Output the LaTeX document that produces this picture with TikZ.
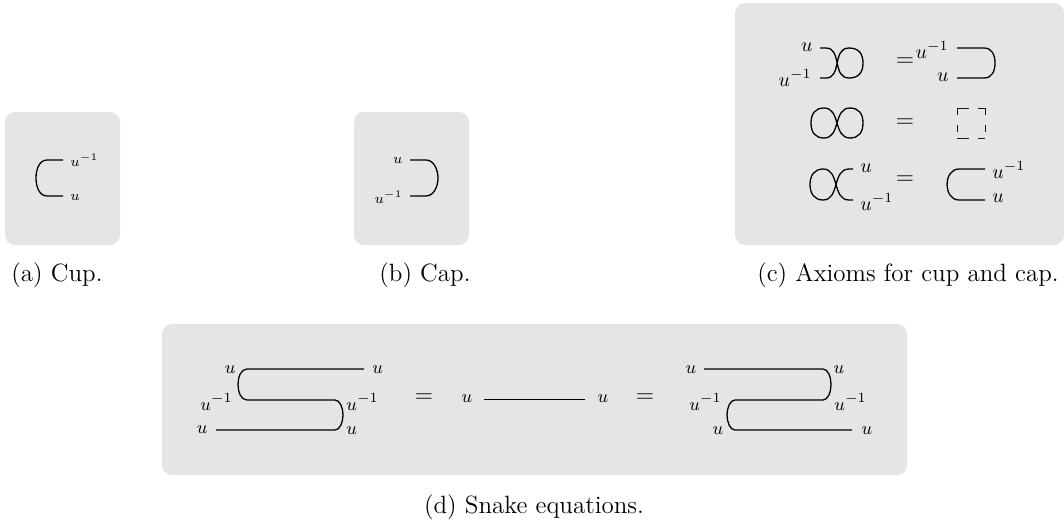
\documentclass[tikz,border=0pt]{standalone}
\tikzset{
  panel/.style={fill=black!10,draw=none,rounded corners=5pt},
  wire/.style={line width=0.65pt,black,line cap=butt},
  thinwire/.style={line width=0.5pt,black!90,line cap=butt},
  caplabel/.style={inner sep=0pt,font=\fontsize{12.5}{15}\selectfont},
  lab/.style={inner sep=0pt,font=\fontsize{9.4}{11}\selectfont},
  labs/.style={inner sep=0pt,font=\fontsize{7.2}{8.6}\selectfont},
  labc/.style={inner sep=0pt,font=\fontsize{9.7}{11}\selectfont},
  eq/.style={inner sep=0pt,font=\fontsize{13}{15}\selectfont},
}
\begin{document}
\begin{tikzpicture}[x=0.5pt,y=-0.5pt]
\useasboundingbox (0,0) rectangle (1064,521);
% panels
\fill[panel] (5,112) rectangle (120,245);
\fill[panel] (354,112) rectangle (469,245);
\fill[panel] (735,3) rectangle (1064,245);
\fill[panel] (162,324) rectangle (907,475);
% (a) cup
\node[labs,anchor=west] (a1) at (70,160) {$u^{-1}$};
\node[labs,anchor=west] (a2) at (70,197) {$u$};
\coordinate (ap) at (63,160); \coordinate (aq) at (63,196);
\draw[wire] (ap) -- (47,160) .. controls (39,160) and (36,170) .. (36,178) .. controls (36,186) and (39,196) .. (47,196) -- (aq);
% (b) cap
\node[labs,anchor=east] (b1) at (403,160) {$u$};
\node[labs,anchor=east] (b2) at (403,197) {$u^{-1}$};
\coordinate (bp) at (410,160); \coordinate (bq) at (410,196);
\draw[wire] (bp) -- (426,160) .. controls (434,160) and (438,170) .. (438,178) .. controls (438,186) and (434,196) .. (426,196) -- (bq);
% (c) row 1
\node[labc,anchor=east] (c1) at (813,47) {$u$};
\node[labc,anchor=east] (c2) at (812,78) {$u^{-1}$};
\coordinate (c1p) at (820,48); \coordinate (c1q) at (820,78);
\draw[wire] (c1p) -- (826,48) .. controls (842,48) and (832,78) .. (849,78) .. controls (859,78) and (863,72) .. (863,63) .. controls (863,54) and (859,48) .. (849,48) .. controls (832,48) and (842,78) .. (826,78) -- (c1q);
\node[eq] (c3) at (905,62) {$=$};
\node[labc,anchor=east] (c4) at (949,50) {$u^{-1}$};
\node[labc,anchor=east] (c5) at (949,77) {$u$};
\coordinate (c1r) at (957,48); \coordinate (c1s) at (957,78);
\draw[wire] (c1r) -- (984,48) .. controls (992,48) and (995,55) .. (995,63) .. controls (995,71) and (992,78) .. (984,78) -- (c1s);
% (c) row 2
\draw[wire] (824,108) .. controls (815,108) and (811,114) .. (811,123) .. controls (811,132) and (815,138) .. (824,138) .. controls (841,138) and (833,108) .. (850,108) .. controls (859,108) and (863,114) .. (863,123) .. controls (863,132) and (859,138) .. (850,138) .. controls (833,138) and (841,108) .. (824,108);
\node[eq] (c6) at (905,123) {$=$};
\draw[thinwire] (957,115) -- (957,108.5) -- (969,108.5);
\draw[thinwire] (957,125) -- (957,132);
\draw[thinwire] (957,138.5) -- (969,138.5);
\draw[thinwire] (978,108.5) -- (985,108.5) -- (985,115);
\draw[thinwire] (985,125) -- (985,132);
\draw[thinwire] (978,138.5) -- (985,138.5);
% (c) row 3
\node[labc,anchor=west] (c7) at (860,168) {$u$};
\node[labc,anchor=west] (c8) at (860,202) {$u^{-1}$};
\coordinate (c3p) at (853,169); \coordinate (c3q) at (853,200);
\draw[wire] (c3p) -- (849,169) .. controls (832,169) and (840,200) .. (823,200) .. controls (814,200) and (810,193) .. (810,184.5) .. controls (810,176) and (814,169) .. (823,169) .. controls (840,169) and (832,200) .. (849,200) -- (c3q);
\node[eq] (c9) at (905,180) {$=$};
\node[labc,anchor=west] (c10) at (992,170) {$u^{-1}$};
\node[labc,anchor=west] (c11) at (992,198) {$u$};
\coordinate (c3r) at (985,169); \coordinate (c3s) at (985,200);
\draw[wire] (c3r) -- (959,169) .. controls (951,169) and (947,177) .. (947,184.5) .. controls (947,192) and (951,200) .. (959,200) -- (c3s);
% (d) left
\node[lab,anchor=east] (d1) at (236,370) {$u$};
\node[lab,anchor=east] (d2) at (233,402) {$u^{-1}$};
\node[lab,anchor=east] (d3) at (208,430) {$u$};
\node[lab,anchor=west] (d4) at (372,370) {$u$};
\node[lab,anchor=west] (d5) at (346,402) {$u^{-1}$};
\node[lab,anchor=west] (d6) at (346,431) {$u$};
\coordinate (dp) at (364,369); \coordinate (dq) at (216,430);
\draw[wire] (dp) -- (247,369) .. controls (241,369) and (238,377) .. (238,384.5) .. controls (238,392) and (241,400) .. (247,400) -- (335,400) .. controls (340,400) and (343,408) .. (343,415) .. controls (343,422) and (340,430) .. (335,430) -- (dq);
% (d) middle
\node[eq] (d7) at (424,398) {$=$};
\node[lab] (d8) at (467,399) {$u$};
\node[lab] (d9) at (603,399) {$u$};
\coordinate (dm1) at (484,399.6); \coordinate (dm2) at (585,399.6);
\draw[wire] (dm1) -- (dm2);
\node[eq] (d10) at (645,398) {$=$};
% (d) right
\node[lab] (d11) at (691,370) {$u$};
\node[lab,anchor=east] (d12) at (722,402) {$u^{-1}$};
\node[lab] (d13) at (718,431) {$u$};
\node[lab] (d14) at (839,370) {$u$};
\node[lab,anchor=west] (d15) at (834,402) {$u^{-1}$};
\node[lab] (d16) at (867,431) {$u$};
\coordinate (dr) at (704,369); \coordinate (ds) at (852,430);
\draw[wire] (dr) -- (823,369) .. controls (828,369) and (831,377) .. (831,384.5) .. controls (831,392) and (828,400) .. (823,400) -- (735,400) .. controls (730,400) and (727,408) .. (727,415) .. controls (727,422) and (730,430) .. (735,430) -- (ds);
% captions
\node[caplabel] (capa) at (57,275) {(a) Cup.};
\node[caplabel] (capb) at (425,275) {(b) Cap.};
\node[caplabel] (capc) at (908,275) {(c) Axioms for cup and cap.};
\node[caplabel] (capd) at (534,507) {(d) Snake equations.};
\end{tikzpicture}
\end{document}
